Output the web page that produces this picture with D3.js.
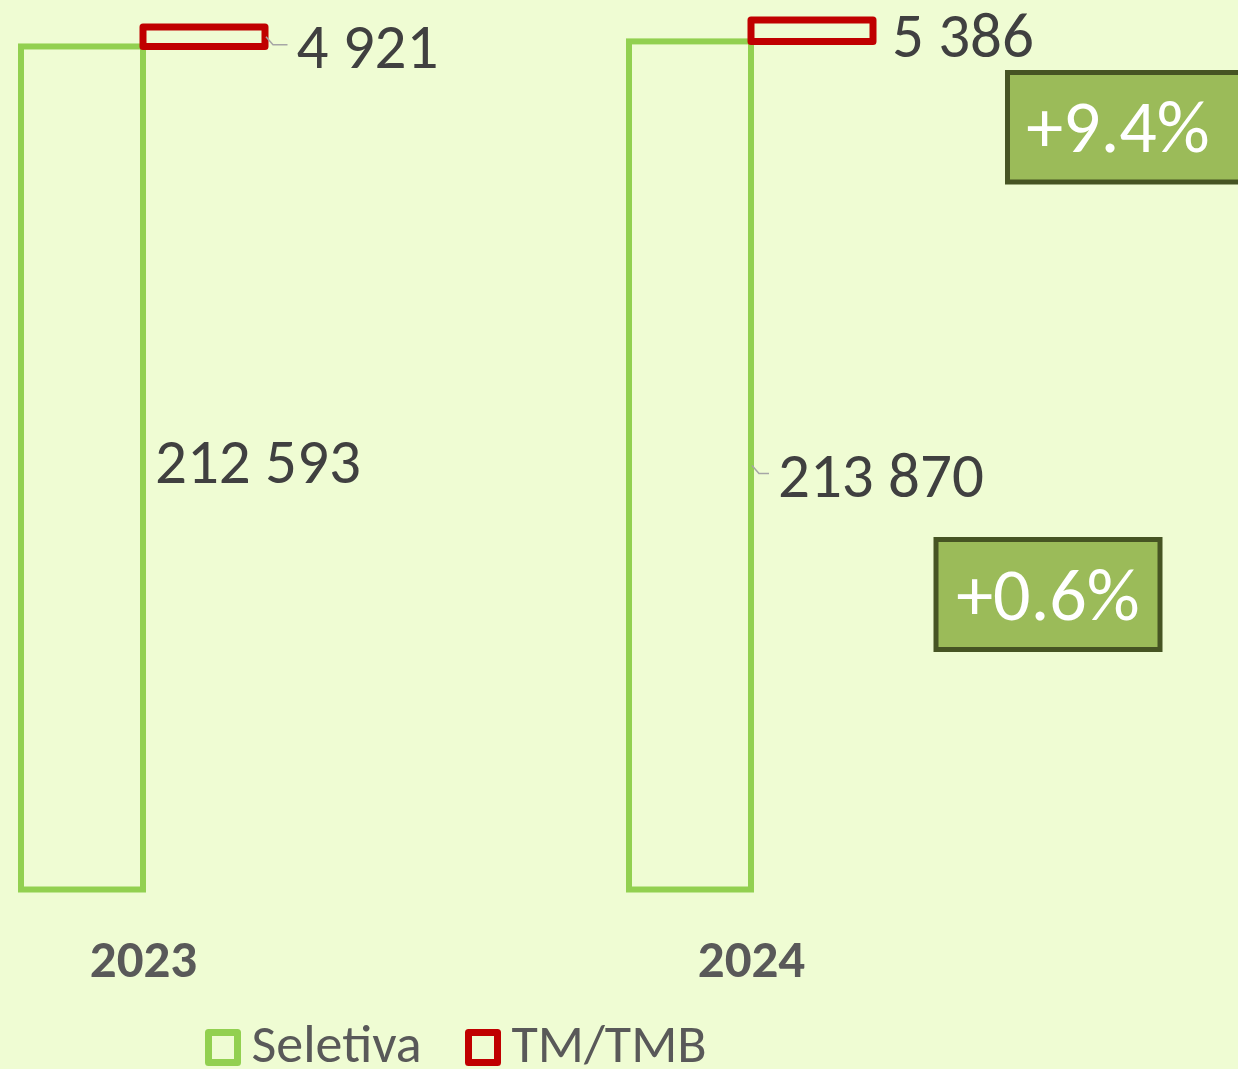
<!DOCTYPE html>
<html>
<head>
<meta charset="utf-8">
<script src="https://cdn.jsdelivr.net/npm/d3@7"></script>
<style>
  html, body { margin: 0; padding: 0; background: #effcd3; }
  svg { display: block; }
  text { font-family: Carlito, "Open Sans", sans-serif; }
</style>
</head>
<body>
<div id="chart"></div>
<script>
var years = ["2023", "2024"];
var seletiva = [212593, 213870];
var tmTmb = [4921, 5386];
var seriesNames = ["Seletiva", "TM/TMB"];
var seriesColors = ["#92d050", "#c00000"];

var width = 1238, height = 1069
  , barW = 122
  , fmtNum = function (v) { return d3.format(",")(v).replace(/,/g, " "); }
  , fmtPct = d3.format("+.1%");

var svg = d3.select("#chart").append("svg")
  .attr("width", width)
  .attr("height", height);

svg.append("rect")
  .attr("width", width).attr("height", height)
  .attr("fill", "#effcd3");

var x = d3.scalePoint().domain(years).range([143, 751]);
var y = d3.scaleLinear().domain([0, 220000]).range([889.5, 17.1]);

// seletiva bars, left of the category centre
svg.selectAll(".sel")
  .data(years)
  .enter().append("rect")
  .attr("x", function (d) { return x(d) - barW; })
  .attr("y", function (d, i) { return y(seletiva[i]); })
  .attr("width", barW)
  .attr("height", function (d, i) { return y(0) - y(seletiva[i]); })
  .attr("fill", "none")
  .attr("stroke", seriesColors[0])
  .attr("stroke-width", 6);

// TM/TMB stacked on top, shifted right
svg.selectAll(".tm")
  .data(years)
  .enter().append("rect")
  .attr("x", function (d) { return x(d); })
  .attr("y", function (d, i) { return y(seletiva[i] + tmTmb[i]); })
  .attr("width", barW)
  .attr("height", function (d, i) { return y(seletiva[i]) - y(seletiva[i] + tmTmb[i]); })
  .attr("fill", "none")
  .attr("stroke", seriesColors[1])
  .attr("stroke-width", 7)
  .attr("stroke-linejoin", "round");

// label offsets from bar right edge / bar middle
var selOff = [[12, 15, false], [27, 31.5, true]];
var tmOff = [[31.5, 31, true], [19, 26, false]];

function valueLabel(xr, ymid, off, txt) {
  if (off[2]) {
    svg.append("path")
      .attr("d", "M" + (xr + 1) + "," + ymid + "L" + (xr + 8) + "," + (ymid + 8) + "L" + (xr + off[0] - 9) + "," + (ymid + 8))
      .attr("fill", "none")
      .attr("stroke", "#a6a6a6")
      .attr("stroke-width", 1.5);
  }
  svg.append("text")
    .attr("x", xr + off[0])
    .attr("y", ymid + off[1])
    .attr("font-size", 63)
    .attr("fill", "#404040")
    .text(txt);
}

years.forEach(function (yr, i) {
  var selMid = (y(0) + y(seletiva[i])) / 2;
  valueLabel(x(yr), selMid, selOff[i], fmtNum(seletiva[i]));
  var tmMid = (y(seletiva[i]) + y(seletiva[i] + tmTmb[i])) / 2;
  valueLabel(x(yr) + barW, tmMid, tmOff[i], fmtNum(tmTmb[i]));
});

// growth boxes
var growth = [
  { v: tmTmb[1] / tmTmb[0] - 1, box: [1007.5, 72.5, 240, 109.5], tx: 1118, ty: 152 },
  { v: seletiva[1] / seletiva[0] - 1, box: [936, 539.5, 224, 110], tx: 1048, ty: 620 }
];
growth.forEach(function (g) {
  svg.append("rect")
    .attr("x", g.box[0]).attr("y", g.box[1])
    .attr("width", g.box[2]).attr("height", g.box[3])
    .attr("fill", "#9bbb59")
    .attr("stroke", "#465423")
    .attr("stroke-width", 5);
  svg.append("text")
    .attr("x", g.tx).attr("y", g.ty)
    .attr("text-anchor", "middle")
    .attr("font-size", 74)
    .attr("fill", "#ffffff")
    .text(fmtPct(g.v));
});

// category axis labels
svg.append("g")
  .attr("transform", "translate(0,977)")
  .call(d3.axisBottom(x).tickSize(0).tickPadding(0))
  .call(function (g) { g.select(".domain").remove(); })
  .selectAll("text")
  .attr("dy", 0)
  .attr("font-size", 53)
  .attr("font-weight", "bold")
  .attr("font-family", "Carlito, 'Open Sans', sans-serif")
  .attr("fill", "#595959");

// legend
var legX = [208.5, 468.5];
seriesNames.forEach(function (name, i) {
  svg.append("rect")
    .attr("x", legX[i]).attr("y", 1032.5)
    .attr("width", 29).attr("height", 30)
    .attr("fill", "none")
    .attr("stroke", seriesColors[i])
    .attr("stroke-width", 7)
    .attr("stroke-linejoin", "round");
  svg.append("text")
    .attr("x", legX[i] + 43).attr("y", 1062)
    .attr("font-size", 54)
    .attr("fill", "#595959")
    .text(name);
});
</script>
</body>
</html>
